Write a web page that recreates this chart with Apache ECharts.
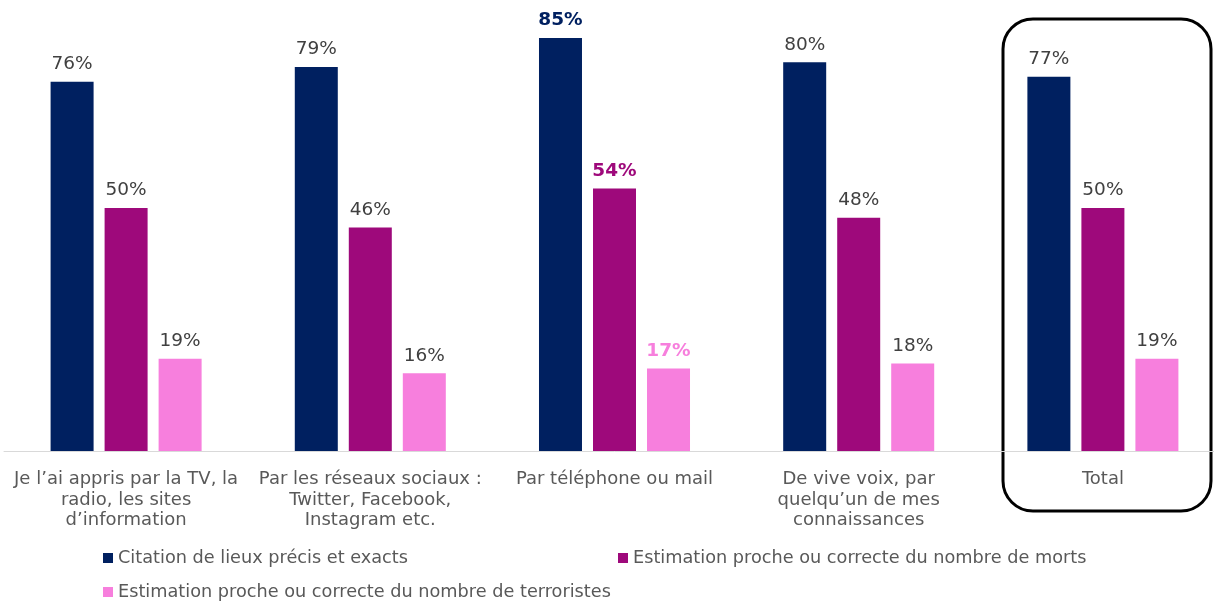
<!DOCTYPE html>
<html><head><meta charset="utf-8">
<script src="https://cdn.jsdelivr.net/npm/echarts@6/dist/echarts.min.js"></script>
<style>html,body{margin:0;padding:0;background:#fff;overflow:hidden}#c{width:1230px;height:603px}</style>
</head><body><div id="c"></div>
<script>
const categories = [
  "Je l\u2019ai appris par la TV, la\nradio, les sites\nd\u2019information",
  "Par les réseaux sociaux :\nTwitter, Facebook,\nInstagram etc.",
  "Par téléphone ou mail",
  "De vive voix, par\nquelqu\u2019un de mes\nconnaissances",
  "Total"
];
const seriesNames = [
  "Citation de lieux précis et exacts",
  "Estimation proche ou correcte du nombre de morts",
  "Estimation proche ou correcte du nombre de terroristes"
];
const lieux = [76, 79, 85, 80, 77];
const morts = [50, 46, 54, 48, 50];
const terroristes = [19, 16, 17, 18, 19];
const highlightIndex = 2;
const colors = ["#002060", "#9E097B", "#F77FDD"];
const FONT = "DejaVu Sans";

function mk(values, color) {
  return values.map((v, i) => i === highlightIndex
    ? { value: v, label: { fontWeight: "bold", color: color } }
    : v);
}
const allData = [lieux, morts, terroristes];
const chart = echarts.init(document.getElementById('c'));
chart.setOption({
  animation: false,
  textStyle: { fontFamily: FONT },
  grid: { left: 4, right: 5, top: 0, bottom: 152, containLabel: false },
  xAxis: {
    type: 'category', data: categories,
    axisLine: { lineStyle: { color: '#D9D9D9', width: 1 } },
    axisTick: { show: false },
    axisLabel: { color: '#595959', fontSize: 18, lineHeight: 20.7, margin: 18, fontFamily: FONT, interval: 0 }
  },
  yAxis: { type: 'value', min: 0, max: 92.8, show: false, splitLine: { show: false } },
  legend: [0, 1, 2].map(i => ({
    data: [seriesNames[i]],
    left: i === 1 ? 618 : 103,
    top: i === 2 ? 583 : 549,
    itemWidth: 10, itemHeight: 10, itemGap: 0,
    icon: 'rect',
    textStyle: { color: '#595959', fontSize: 17.7, fontFamily: FONT, padding: [0, 0, 0, 0] },
    padding: 0
  })),
  series: allData.map((d, i) => ({
    name: seriesNames[i], type: 'bar', data: mk(d, colors[i]),
    barWidth: 43, barGap: '25.6%',
    itemStyle: { color: colors[i] },
    label: { show: true, position: 'top', distance: 8, formatter: '{c}%', color: '#404040', fontSize: 18.5, fontFamily: FONT }
  })),
  graphic: [{
    type: 'rect', shape: { x: 1003, y: 19, width: 208, height: 492, r: 30 },
    style: { fill: 'none', stroke: '#000', lineWidth: 3 }, silent: true
  }]
});
</script></body></html>
